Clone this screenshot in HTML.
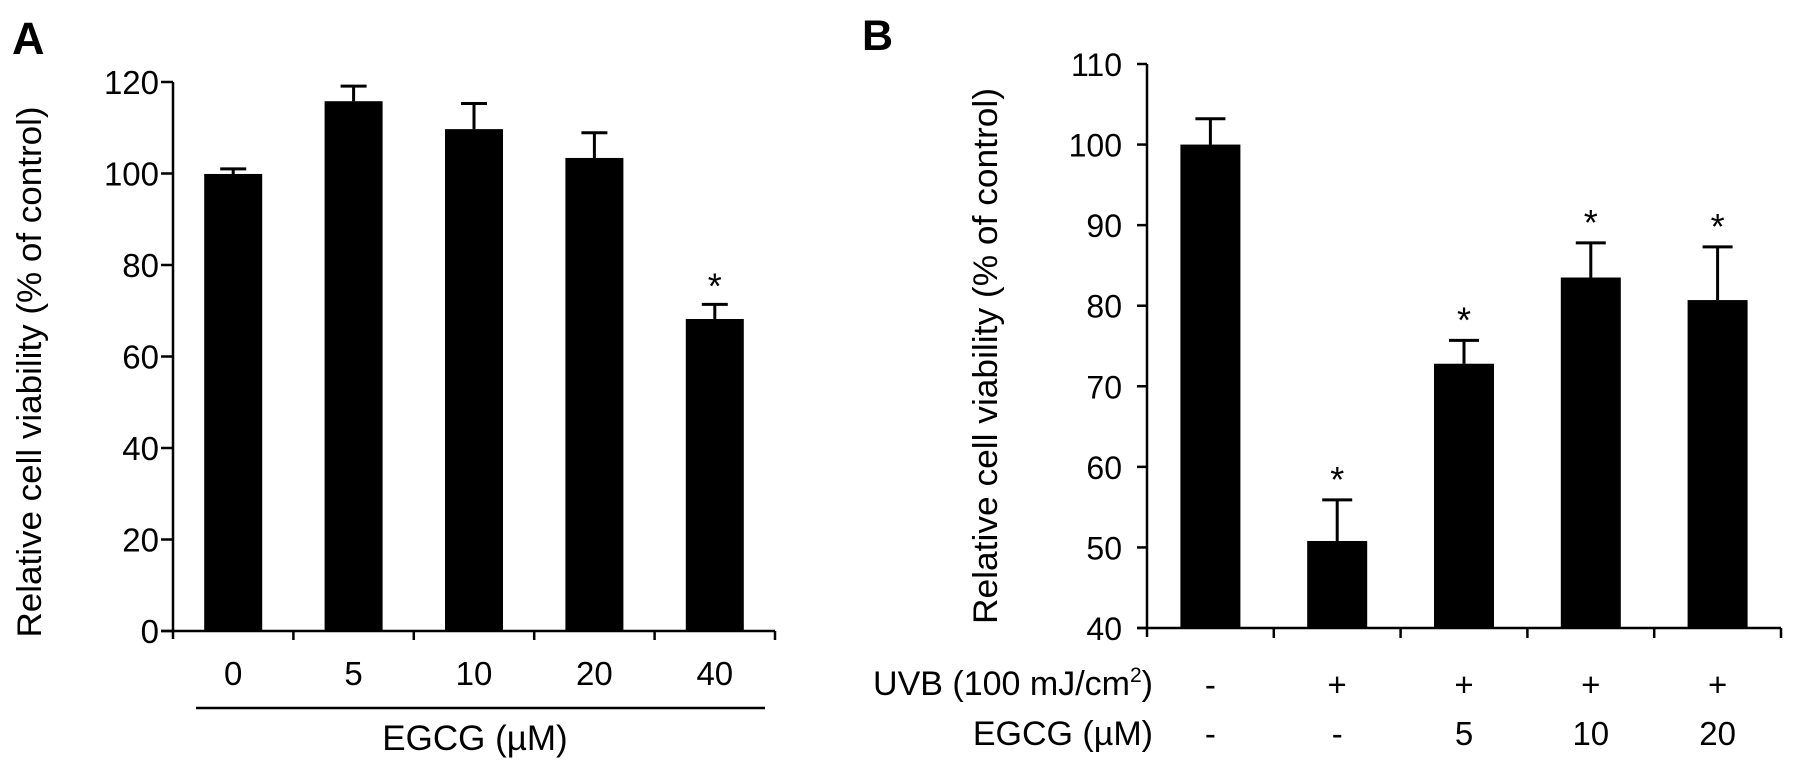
<!DOCTYPE html>
<html><head><meta charset="utf-8"><style>
body{margin:0;background:#fff;}
svg{display:block;font-family:"Liberation Sans",Arial,sans-serif;}
</style></head><body>
<svg id="fig" width="1795" height="769" viewBox="0 0 1795 769">
<text x="12" y="54" font-size="45" font-weight="bold">A</text>
<text x="862" y="50" font-size="43" font-weight="bold">B</text>
<g id="pa"></g>
<g id="pb"></g>
</svg>
<script>
const aCategories=["0","5","10","20","40"];
const aValues=[99.9,115.8,109.7,103.4,68.2];
const aErrors=[1.1,3.3,5.6,5.5,3.2];
const aSig=[false,false,false,false,true];
const aTicks=[0,20,40,60,80,100,120];

const bUVB=["-","+","+","+","+"];
const bEGCG=["-","-","5","10","20"];
const bValues=[100,50.8,72.8,83.5,80.7];
const bErrors=[3.2,5.1,2.9,4.3,6.6];
const bSig=[false,true,true,true,true];
const bTicks=[40,50,60,70,80,90,100,110];

const NS="http://www.w3.org/2000/svg";
function mk(parent,tag,attrs,txt){const e=document.createElementNS(NS,tag);for(const k in attrs)e.setAttribute(k,attrs[k]);if(txt!==undefined)e.textContent=txt;parent.appendChild(e);return e;}

// Panel A
(function(){
const g=document.getElementById('pa');
const x0=173,x1=775,y0=631,ymin=0,ymax=120,ytop=82;
const ys=v=>y0-(v-ymin)/(ymax-ymin)*(y0-ytop);
const bw=(x1-x0)/aCategories.length;
const xc=i=>x0+bw*(i+0.5);
mk(g,'line',{x1:x0,y1:ys(ymax),x2:x0,y2:y0+8,stroke:'#000','stroke-width':2.5});
mk(g,'line',{x1:x0-12,y1:y0,x2:x1,y2:y0,stroke:'#000','stroke-width':2.5});
aTicks.forEach(t=>{
 const tk=mk(g,'line',{x1:x0-12,y1:ys(t),x2:x0,y2:ys(t),stroke:'#000','stroke-width':2.5});
 
 
 const lb=mk(g,'text',{x:x0-14,y:ys(t)+12,'font-size':33,'text-anchor':'end'},String(t));
 
 
});
for(let i=1;i<=aCategories.length;i++){
 const tk=mk(g,'line',{x1:x0+bw*i,y1:y0,x2:x0+bw*i,y2:y0+9,stroke:'#000','stroke-width':2.5});
 
 
}
aCategories.forEach((c,i)=>{
 const w=58,cx=xc(i);
 const r=mk(g,'rect',{x:cx-w/2,y:ys(aValues[i]),width:w,height:y0-ys(aValues[i]),fill:'#000'});
 
 
 const et=ys(aValues[i]+aErrors[i]);
 const e=mk(g,'path',{d:`M${cx} ${ys(aValues[i])}V${et}M${cx-13} ${et}H${cx+13}`,stroke:'#000','stroke-width':3,fill:'none'});
 
 
 if(aSig[i]){const s=mk(g,'text',{x:cx,y:et-6,'font-size':36,'text-anchor':'middle'},'*');
  
  }
 const l=mk(g,'text',{x:cx,y:685,'font-size':33,'text-anchor':'middle'},c);
 
 
});
const u=mk(g,'line',{x1:196,y1:708,x2:765,y2:708,stroke:'#000','stroke-width':2.5});

const xl=mk(g,'text',{x:475,y:750,'font-size':35,'text-anchor':'middle'},'EGCG (µM)');

const yl=mk(g,'text',{x:0,y:0,'font-size':34,'text-anchor':'middle',transform:'translate(41,372) rotate(-90)',textLength:531,lengthAdjust:'spacingAndGlyphs'},'Relative cell viability (% of control)');

})();

// Panel B
(function(){
const g=document.getElementById('pb');
const x0=1147,x1=1781,y0=628,ymin=40,ymax=110,ytop=64;
const ys=v=>y0-(v-ymin)/(ymax-ymin)*(y0-ytop);
const bw=(x1-x0)/bValues.length;
const xc=i=>x0+bw*(i+0.5);
mk(g,'line',{x1:x0,y1:ys(ymax),x2:x0,y2:y0+9,stroke:'#000','stroke-width':2.5});
mk(g,'line',{x1:x0-10,y1:y0,x2:x1,y2:y0,stroke:'#000','stroke-width':2.5});
bTicks.forEach(t=>{
 const tk=mk(g,'line',{x1:x0-10,y1:ys(t),x2:x0,y2:ys(t),stroke:'#000','stroke-width':2.5});
 
 
 const lb=mk(g,'text',{x:x0-25,y:ys(t)+12,'font-size':32,'text-anchor':'end'},String(t));
 
 
});
for(let i=1;i<=bValues.length;i++){
 const tk=mk(g,'line',{x1:x0+bw*i,y1:y0,x2:x0+bw*i,y2:y0+10,stroke:'#000','stroke-width':2.5});
 
 
}
bValues.forEach((v,i)=>{
 const w=60,cx=xc(i);
 const r=mk(g,'rect',{x:cx-w/2,y:ys(v),width:w,height:y0-ys(v),fill:'#000'});
 
 
 const et=ys(v+bErrors[i]);
 const e=mk(g,'path',{d:`M${cx} ${ys(v)}V${et}M${cx-15} ${et}H${cx+15}`,stroke:'#000','stroke-width':3,fill:'none'});
 
 
 if(bSig[i]){const s=mk(g,'text',{x:cx,y:et-8,'font-size':36,'text-anchor':'middle'},'*');
  
  }
 const l1=mk(g,'text',{x:cx,y:696,'font-size':33,'text-anchor':'middle'},bUVB[i]);
 
 
 const l2=mk(g,'text',{x:cx,y:745,'font-size':33,'text-anchor':'middle'},bEGCG[i]);
 
 
});
const r1=mk(g,'text',{x:1153,y:695,'font-size':34,'text-anchor':'end'});
r1.innerHTML='UVB (100 mJ/cm<tspan font-size="21" dy="-13">2</tspan><tspan dy="13">)</tspan>';

const r2=mk(g,'text',{x:1153,y:745,'font-size':34,'text-anchor':'end'},'EGCG (µM)');

const yl=mk(g,'text',{x:0,y:0,'font-size':34,'text-anchor':'middle',transform:'translate(997,356) rotate(-90)',textLength:536,lengthAdjust:'spacingAndGlyphs'},'Relative cell viability (% of control)');

})();
</script>
</body></html>
